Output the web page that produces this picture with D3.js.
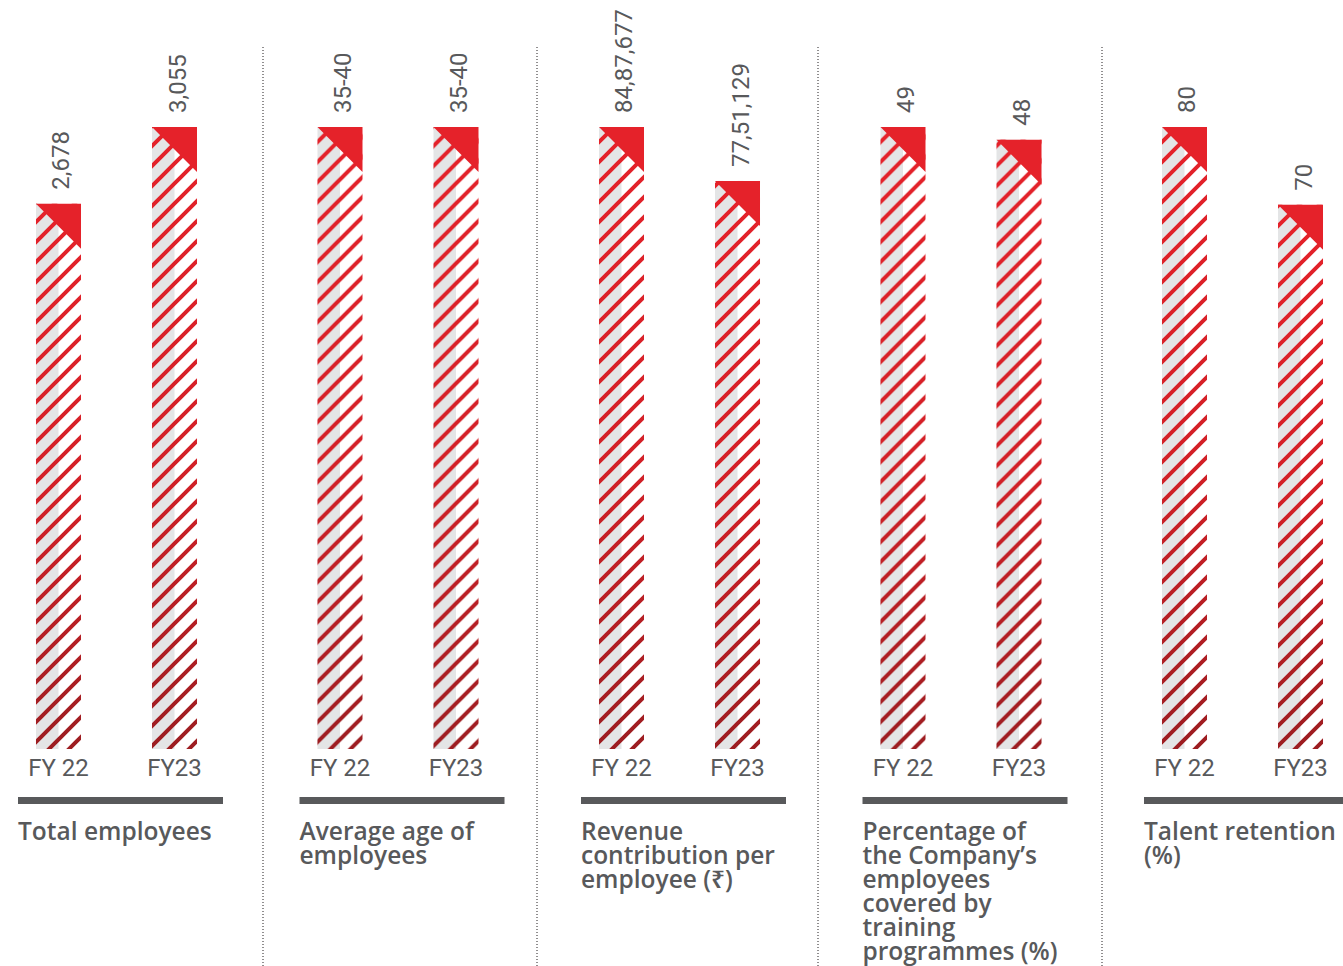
<!DOCTYPE html>
<html>
<head>
<meta charset="utf-8">
<script src="https://cdn.jsdelivr.net/npm/d3@7"></script>
<style>
  body{margin:0;background:#fff;}
  svg{display:block;}
  text{font-family:Roboto,"Noto Sans",sans-serif;fill:#58595b;}
  text.title{font-family:"Open Sans","Noto Sans",sans-serif;}
</style>
</head>
<body>
<div id="chart"></div>
<script>
// data
var years = ["FY 22","FY23"]
var fy22Values = [2678, 40, 8487677, 49, 80]
var fy23Values = [3055, 40, 7751129, 48, 70]
var fy22Labels = ["2,678","35-40","84,87,677","49","80"]
var fy23Labels = ["3,055","35-40","77,51,129","48","70"]
var titles = [
  ["Total employees"],
  ["Average age of","employees"],
  ["Revenue","contribution per","employee (\u20b9)"],
  ["Percentage of","the Company\u2019s","employees","covered by","training","programmes (%)"],
  ["Talent retention","(%)"]
]

var W = 1343, H = 966
var baseY = 749, topY = 127
var separatorX = [263, 537, 818, 1102]

var svg = d3.select("#chart").append("svg")
    .attr("width",W).attr("height",H)

var defs = svg.append("defs")
var grad = defs.append("linearGradient").attr("id","redGrad")
    .attr("x1",0).attr("y1",0).attr("x2",0).attr("y2",1)
grad.append("stop").attr("offset","0%").attr("stop-color","#e5222a")
grad.append("stop").attr("offset","55%").attr("stop-color","#d22027")
grad.append("stop").attr("offset","100%").attr("stop-color","#9c1d21")

var pat = defs.append("pattern").attr("id","stripes")
    .attr("patternUnits","userSpaceOnUse").attr("width",20).attr("height",20)
pat.append("rect").attr("width",20).attr("height",20).attr("fill","black")
pat.append("path")
    .attr("d","M-5,5 L5,-5 M0,20 L20,0 M15,25 L25,15")
    .attr("stroke","white").attr("stroke-width",4)
defs.append("mask").attr("id","stripeMask").attr("maskUnits","userSpaceOnUse")
    .attr("x",0).attr("y",0).attr("width",W).attr("height",H)
  .append("rect").attr("width",W).attr("height",H).attr("fill","url(#stripes)")

var panelX = d3.scaleBand().domain(d3.range(5)).range([18, 18+5*281.5])
var barX = d3.scaleBand().domain(years).range([0,197]).paddingInner(0.612).paddingOuter(0.155)
var bw = barX.bandwidth()

// separators
svg.selectAll("line.sep").data(separatorX).enter().append("line")
    .attr("class","sep")
    .attr("x1",function(d){return d}).attr("x2",function(d){return d})
    .attr("y1",47).attr("y2",H)
    .attr("stroke","#231f20").attr("stroke-width",1).attr("stroke-dasharray","1,2")

for(var i=0;i<5;i++){
    var g = svg.append("g").attr("transform","translate("+panelX(i)+",0)")
    var vals = [fy22Values[i], fy23Values[i]]
    var labs = [fy22Labels[i], fy23Labels[i]]
    var y = d3.scaleLinear().domain([0, d3.max(vals)]).range([baseY, topY])

    var bars = g.selectAll("g.bar").data(years).enter().append("g").attr("class","bar")
    bars.each(function(d,j){
        var b = d3.select(this)
        var x0 = barX(d), top = y(vals[j]), h = baseY - top
        b.append("rect").attr("x",x0).attr("y",top).attr("width",bw).attr("height",h).attr("fill","#fff")
        b.append("rect").attr("x",x0).attr("y",top).attr("width",bw/2).attr("height",h).attr("fill","#e4e5e6")
        b.append("rect").attr("x",x0).attr("y",top).attr("width",bw).attr("height",h)
            .attr("fill","url(#redGrad)").attr("mask","url(#stripeMask)")
        b.append("path")
            .attr("d","M"+x0+","+top+" L"+(x0+bw)+","+top+" L"+(x0+bw)+","+(top+bw)+" Z")
            .attr("fill","#e5222a")
        b.append("text")
            .attr("transform","translate("+(x0+bw/2+11)+","+(top-14)+") rotate(-90)")
            .attr("font-size",24)
            .text(labs[j])
        b.append("text")
            .attr("x",x0+bw/2).attr("y",776)
            .attr("text-anchor","middle").attr("font-size",24)
            .text(d)
    })

    g.append("rect").attr("x",0).attr("y",797).attr("width",205).attr("height",7).attr("fill","#58595b")

    var t = g.append("text").attr("class","title").attr("font-size",24.5).attr("font-weight",600)
    t.selectAll("tspan").data(titles[i]).enter().append("tspan")
        .attr("x",0).attr("y",function(d,k){return 840+k*24})
        .text(function(d){return d})
}
</script>
</body>
</html>
